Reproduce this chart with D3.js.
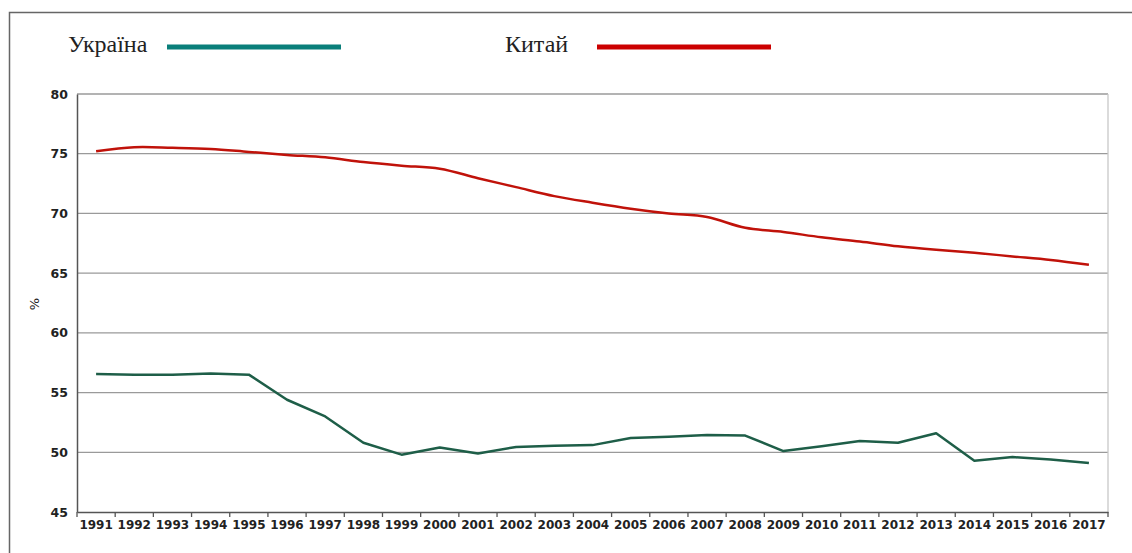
<!DOCTYPE html>
<html>
<head>
<meta charset="utf-8">
<script src="https://cdn.jsdelivr.net/npm/d3@7/dist/d3.min.js"></script>
<style>
  html, body { margin: 0; padding: 0; background: #fff; }
  svg { display: block; }
</style>
</head>
<body>
<svg id="chart" width="1132" height="553"></svg>
<script>
const years = ["1991","1992","1993","1994","1995","1996","1997","1998","1999","2000","2001","2002","2003","2004","2005","2006","2007","2008","2009","2010","2011","2012","2013","2014","2015","2016","2017"];
const ukraine = [56.55,56.5,56.5,56.6,56.5,54.4,53.0,50.8,49.8,50.4,49.9,50.45,50.55,50.6,51.2,51.3,51.45,51.4,50.1,50.5,50.95,50.8,51.6,49.3,49.6,49.4,49.1];
const china = [75.2,75.55,75.5,75.4,75.15,74.9,74.7,74.3,74.0,73.75,72.95,72.2,71.45,70.9,70.4,70.0,69.7,68.8,68.45,68.0,67.65,67.25,66.95,66.7,66.4,66.1,65.7];
const yTicks = [45,50,55,60,65,70,75,80];
const seriesNames = ["Україна", "Китай"];

const svg = d3.select("#chart");
const m = {left: 77, right: 1108, top: 94, bottom: 512};

// outer frame (only left & top visible)
svg.append("rect").attr("x", 9.5).attr("y", 12.5).attr("width", 1200).attr("height", 700)
  .attr("fill", "none").attr("stroke", "#666").attr("stroke-width", 1.5);

const x = d3.scaleBand().domain(years).range([m.left, m.right]).padding(0);
const y = d3.scaleLinear().domain([45, 80]).range([m.bottom, m.top]);

// gridlines
svg.append("g").selectAll("line").data(yTicks.filter(d => d > 45)).join("line")
  .attr("x1", m.left).attr("x2", m.right)
  .attr("y1", d => y(d)).attr("y2", d => y(d))
  .attr("stroke", "#9a9a9a").attr("stroke-width", 1.3);

// right border
svg.append("line").attr("x1", m.right).attr("x2", m.right).attr("y1", m.top).attr("y2", m.bottom)
  .attr("stroke", "#c8c8c8").attr("stroke-width", 1.3);

// y axis
const yAxis = svg.append("g").attr("transform", `translate(${m.left},0)`)
  .call(d3.axisLeft(y).tickValues(yTicks).tickSize(0).tickPadding(9));
yAxis.select(".domain").attr("stroke", "#555").attr("stroke-width", 1.5);
yAxis.selectAll("text").attr("font-family", "DejaVu Sans").attr("font-weight", "bold")
  .attr("font-size", "12.5px").attr("fill", "#222");

// x axis
const xAxis = svg.append("g").attr("transform", `translate(0,${m.bottom})`)
  .call(d3.axisBottom(x).tickSize(0).tickPadding(8));
xAxis.select(".domain").attr("stroke", "#555").attr("stroke-width", 1.5);
xAxis.selectAll("text").attr("font-family", "DejaVu Sans").attr("font-weight", "bold")
  .attr("font-size", "12px").attr("fill", "#222");
// boundary ticks
const bounds = years.map(d => x(d)).concat([m.right]);
xAxis.append("g").selectAll("line").data(bounds).join("line")
  .attr("x1", d => d).attr("x2", d => d).attr("y1", 0).attr("y2", 5)
  .attr("stroke", "#555").attr("stroke-width", 1.3);

// % label
svg.append("text").attr("transform", "translate(39,304) rotate(-90)")
  .attr("text-anchor", "middle").attr("font-family", "DejaVu Sans")
  .attr("font-size", "13px").attr("fill", "#222").text("%");

const cx = d => x(d) + x.bandwidth() / 2;

// China line (smoothed)
svg.append("path").datum(china)
  .attr("d", d3.line().x((d, i) => cx(years[i])).y(d => y(d)).curve(d3.curveCatmullRom.alpha(0.5)))
  .attr("fill", "none").attr("stroke", "#c0120a").attr("stroke-width", 2.5);

// Ukraine line
svg.append("path").datum(ukraine)
  .attr("d", d3.line().x((d, i) => cx(years[i])).y(d => y(d)))
  .attr("fill", "none").attr("stroke", "#1e5e48").attr("stroke-width", 2.5)
  .attr("stroke-linejoin", "round");

// legend
const legend = [
  {name: seriesNames[0], tx: 68, lx1: 167, lx2: 341, color: "#0a7f7a"},
  {name: seriesNames[1], tx: 505, lx1: 597, lx2: 771, color: "#cc0000"}
];
const lg = svg.append("g");
lg.selectAll("text").data(legend).join("text")
  .attr("x", d => d.tx).attr("y", 52)
  .attr("font-family", "Liberation Serif").attr("font-size", "24px").attr("fill", "#222")
  .text(d => d.name);
lg.selectAll("line").data(legend).join("line")
  .attr("x1", d => d.lx1).attr("x2", d => d.lx2).attr("y1", 47).attr("y2", 47)
  .attr("stroke", d => d.color).attr("stroke-width", 5);
</script>
</body>
</html>
